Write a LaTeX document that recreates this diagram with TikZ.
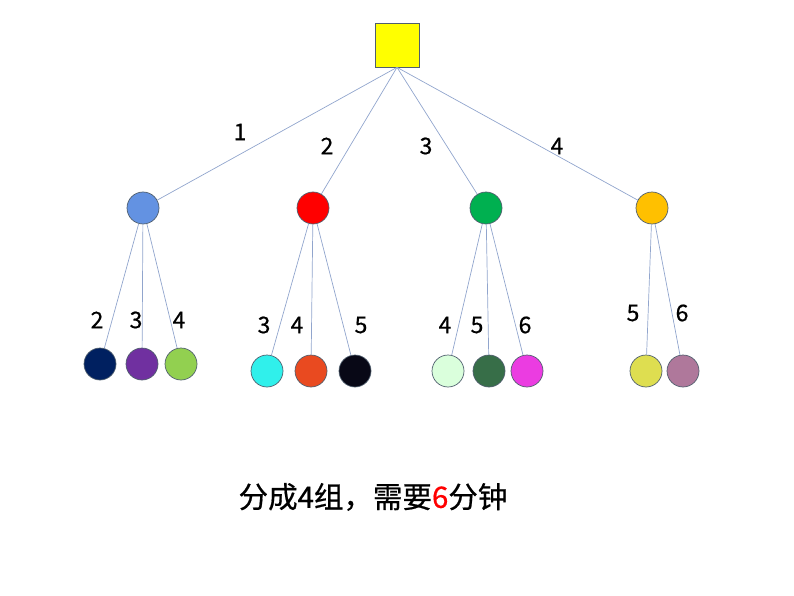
\documentclass[tikz,border=0pt]{standalone}
\usepackage{fontspec}
\usepackage{xcolor}
\newfontfamily\cjk[FakeBold=0.6]{Noto Sans CJK SC}
\usetikzlibrary{positioning}

\definecolor{edgeblue}{RGB}{145,165,205}
\definecolor{ringgray}{RGB}{80,95,110}

\begin{document}
\begin{tikzpicture}[x=1pt,y=-1pt,
    ball/.style={draw=ringgray, line width=0.7pt, circle, minimum size=32pt, inner sep=0pt},
    edge/.style={draw=edgeblue, line width=0.7pt},
    num/.style={font=\cjk\fontsize{23}{23}\selectfont, inner sep=0pt}]
            \useasboundingbox (0,0) rectangle (794,596);

            \node [draw=ringgray, line width=0.7pt, fill={rgb,255:red,255;green,255;blue,0}, minimum size=44pt, inner sep=0pt] (r) at (397,45) {};

            \node [ball, fill={rgb,255:red,99;green,146;blue,226}] (g1) at (143,208) {};
            \node [ball, fill={rgb,255:red,255;green,0;blue,0}] (g2) at (313,208) {};
            \node [ball, fill={rgb,255:red,0;green,176;blue,80}] (g3) at (486,208) {};
            \node [ball, fill={rgb,255:red,255;green,192;blue,0}] (g4) at (652,208) {};

            \draw [edge] (r.south) -- (g1);
            \draw [edge] (r.south) -- (g2);
            \draw [edge] (r.south) -- (g3);
            \draw [edge] (r.south) -- (g4);

            \node [num] (n1) at (240,132) {1};
            \node [num] (n2) at (327,146) {2};
            \node [num] (n3) at (426,146) {3};
            \node [num] (n4) at (557,146) {4};

            \node [ball, fill={rgb,255:red,0;green,32;blue,96}] (x1) at (100,364) {};
            \node [ball, fill={rgb,255:red,112;green,48;blue,160}] (x2) at (142,364) {};
            \node [ball, fill={rgb,255:red,146;green,208;blue,80}] (x3) at (181,364) {};

            \draw [edge] (g1) -- (x1);
            \draw [edge] (g1) -- (x2);
            \draw [edge] (g1) -- (x3);

            \node [num] (m1) at (97,320) {2};
            \node [num] (m2) at (136,320) {3};
            \node [num] (m3) at (179,320) {4};

            \node [ball, fill={rgb,255:red,48;green,240;blue,235}] (x4) at (267,371) {};
            \node [ball, fill={rgb,255:red,233;green,74;blue,32}] (x5) at (311,371) {};
            \node [ball, fill={rgb,255:red,8;green,8;blue,22}] (x6) at (355,371) {};

            \draw [edge] (g2) -- (x4);
            \draw [edge] (g2) -- (x5);
            \draw [edge] (g2) -- (x6);

            \node [num] (m4) at (264,325) {3};
            \node [num] (m5) at (297,325) {4};
            \node [num] (m6) at (361,325) {5};

            \node [ball, fill={rgb,255:red,218;green,255;blue,220}] (x7) at (448,371) {};
            \node [ball, fill={rgb,255:red,55;green,110;blue,72}] (x8) at (489,371) {};
            \node [ball, fill={rgb,255:red,235;green,60;blue,225}] (x9) at (527,371) {};

            \draw [edge] (g3) -- (x7);
            \draw [edge] (g3) -- (x8);
            \draw [edge] (g3) -- (x9);

            \node [num] (m7) at (445,325) {4};
            \node [num] (m8) at (477,325) {5};
            \node [num] (m9) at (525,325) {6};

            \node [ball, fill={rgb,255:red,222;green,222;blue,80}] (x10) at (646,371) {};
            \node [ball, fill={rgb,255:red,175;green,120;blue,155}] (x11) at (683,371) {};

            \draw [edge] (g4) -- (x10);
            \draw [edge] (g4) -- (x11);

            \node [num] (m10) at (633,313) {5};
            \node [num] (m11) at (682,313) {6};

            \node [font=\cjk\fontsize{29.5}{29.5}\selectfont, inner sep=0pt] (t) at (373,497) {分成4组，需要\textcolor{red}{6}分钟};
\end{tikzpicture}
\end{document}
